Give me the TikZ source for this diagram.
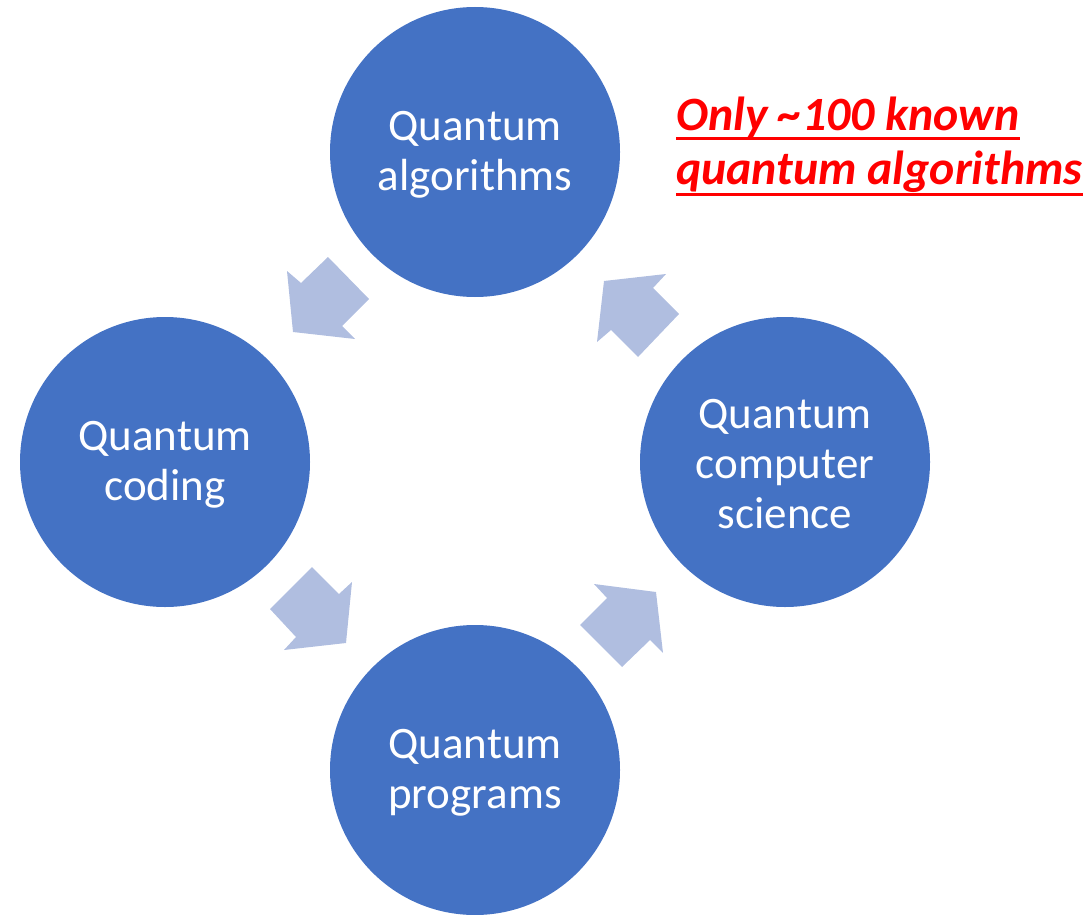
\documentclass[tikz,border=0pt]{standalone}
\usepackage{fontspec}
\setmainfont{Carlito}
\usetikzlibrary{calc}
\definecolor{circblue}{HTML}{4472C4}
\definecolor{arrblue}{HTML}{B0BEE0}
\definecolor{redtxt}{HTML}{FF0000}
\begin{document}
\begin{tikzpicture}[x=1pt,y=-1pt,
  bubble/.style={circle,fill=circblue,draw=none,minimum size=290pt,inner sep=0pt},
  bubbletext/.style={text=white,align=center,inner sep=0pt,font=\fontsize{45}{50}\selectfont},
  blockarrow/.style={fill=arrblue,draw=none},
  note/.style={anchor=base west,inner sep=0pt,text=redtxt,font=\fontsize{47.8}{53}\selectfont\bfseries\itshape},
  uline/.style={draw=redtxt,line width=3pt}]
\useasboundingbox (0,0) rectangle (1089,915);
\node[bubble] (alg) at (475,152) {};
\node[bubble] (cod) at (165,462) {};
\node[bubble] (cs) at (785,462) {};
\node[bubble] (prog) at (475,770) {};
\node[bubbletext] (algt) at ($(alg.center)+(0,3)$) {Quantum\\algorithms};
\node[bubbletext] (codt) at ($(cod.center)+(0,3)$) {Quantum\\coding};
\node[bubbletext] (cst) at ($(cs.center)+(0,2)$) {Quantum\\computer\\science};
\node[bubbletext] (progt) at ($(prog.center)+(0,3)$) {Quantum\\programs};
% block arrows
\fill[blockarrow] (293,332) -- (287,271) -- (301,283) -- (328,257) -- (369,299) -- (342,326) -- (355,339) -- cycle;
\fill[blockarrow] (604,281) -- (666,274) -- (653,288) -- (679,314) -- (638,357) -- (611,330) -- (597,342) -- cycle;
\fill[blockarrow] (346,643) -- (284,650) -- (296,637) -- (270,609) -- (312,567) -- (339,594) -- (352,582) -- cycle;
\fill[blockarrow] (656,592) -- (663,653) -- (650,640) -- (622,667) -- (580,625) -- (607,598) -- (594,584) -- cycle;
% note
\node[note] (n1) at (676,131) {Only \char`\~100 known};
\node[note] (n2) at (676,184) {quantum algorithms};
\draw[uline] ($(n1.base west)+(0,8)$) -- ($(n1.base east)+(0,8)$);
\draw[uline] ($(n2.base west)+(0,10)$) -- ($(n2.base east)+(0,10)$);
\end{tikzpicture}
\end{document}
